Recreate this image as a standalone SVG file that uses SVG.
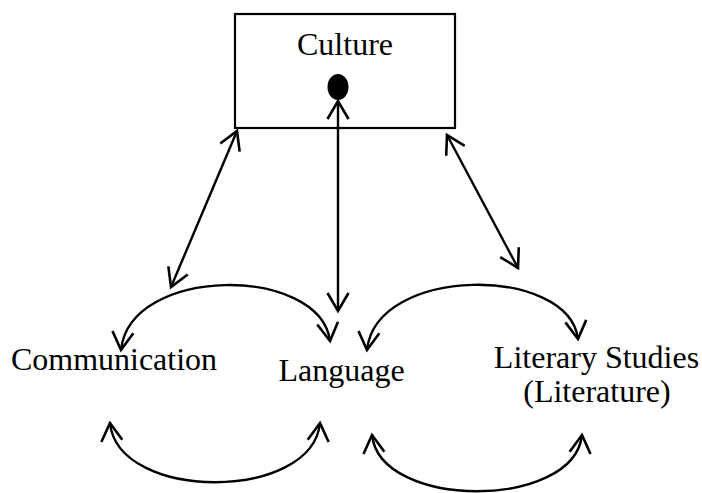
<svg xmlns="http://www.w3.org/2000/svg" width="702" height="493" viewBox="0 0 702 493">
<style>
text{font-family:"Liberation Serif","Times New Roman",serif;font-size:32px;fill:#000;text-anchor:middle}
.c{fill:none;stroke:#000;stroke-width:2.4;marker-start:url(#ah);marker-end:url(#ah)}
</style>
<defs>
<marker id="ah" markerUnits="userSpaceOnUse" markerWidth="30" markerHeight="30" viewBox="-22 -15 30 30" refX="0" refY="0" orient="auto-start-reverse">
<path d="M-18,-10.5 L0,0 L-18,10.5" fill="none" stroke="#000" stroke-width="2.6"/>
</marker>
</defs>
<rect width="702" height="493" fill="#fff"/>
<g id="culture">
<rect x="235" y="14" width="220" height="114" fill="#fff" stroke="#000" stroke-width="2.2"/>
<text x="345" y="55">Culture</text>
<ellipse cx="338" cy="87" rx="10.5" ry="13" fill="#000"/>
</g>
<g id="communication"><text x="114" y="370">Communication</text></g>
<g id="language"><text x="341.5" y="381">Language</text></g>
<g id="literary"><text x="596.5" y="368">Literary Studies</text><text x="597" y="402">(Literature)</text></g>
<g id="connectors">
<path class="c" d="M338,101 L338,311"/>
<path class="c" d="M237,131 L171,287"/>
<path class="c" d="M447,135 L518,268"/>
<path class="c" d="M121,350 C130,265 320,265 330,341"/>
<path class="c" d="M367,350 C376,265 569,265 578,339"/>
<path class="c" d="M110,423 C118,502 312,502 320,423"/>
<path class="c" d="M372,435 C380,510 574,510 582,435"/>
</g>
</svg>
